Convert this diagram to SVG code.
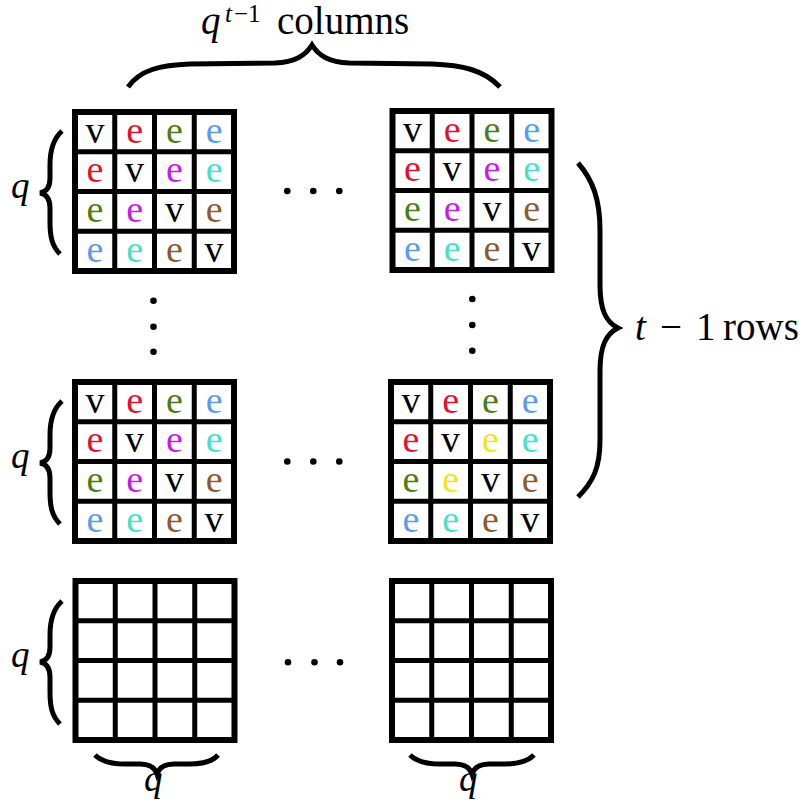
<svg xmlns="http://www.w3.org/2000/svg" xmlns:xlink="http://www.w3.org/1999/xlink" width="806" height="807" viewBox="0 0 806 807">
<style>
.frame{fill:#fff;stroke:#000;stroke-width:6}
.inner{stroke:#000;stroke-width:5}
.brace{fill:none;stroke:#000;stroke-width:5}
.dot{fill:#000}
.lbl{font-family:"Liberation Serif","Times New Roman",serif;font-size:39px;fill:#000}
.q{font-family:"Liberation Serif","Times New Roman",serif;font-size:37px;font-style:italic;fill:#000}
.it{font-style:italic}
.c{font-family:"Liberation Serif","Times New Roman",serif;font-size:38px;text-anchor:middle}
.k{fill:#000}.r{fill:#e0122f}.g{fill:#4b7d16}.b{fill:#5b9bea}.p{fill:#c41de6}.t{fill:#44e0c8}.w{fill:#8c5a30}.y{fill:#f2e41c}
</style>
<defs>
<g id="grid">
<rect class="frame" x="0" y="0" width="159" height="159"/>
<path class="inner" d="M39.75,0V159M79.5,0V159M119.25,0V159M0,39.75H159M0,79.5H159M0,119.25H159"/>
</g>
</defs>

<g id="grid-top-left" transform="translate(75,112)">
<use xlink:href="#grid"/>
<text class="c k" x="19.9" y="30.5">v</text><text class="c r" x="59.6" y="30.5">e</text><text class="c g" x="99.4" y="30.5">e</text><text class="c b" x="139.1" y="30.5">e</text>
<text class="c r" x="19.9" y="70.2">e</text><text class="c k" x="59.6" y="70.2">v</text><text class="c p" x="99.4" y="70.2">e</text><text class="c t" x="139.1" y="70.2">e</text>
<text class="c g" x="19.9" y="110">e</text><text class="c p" x="59.6" y="110">e</text><text class="c k" x="99.4" y="110">v</text><text class="c w" x="139.1" y="110">e</text>
<text class="c b" x="19.9" y="149.7">e</text><text class="c t" x="59.6" y="149.7">e</text><text class="c w" x="99.4" y="149.7">e</text><text class="c k" x="139.1" y="149.7">v</text>
</g>

<g id="grid-top-right" transform="translate(392.5,111)">
<use xlink:href="#grid"/>
<text class="c k" x="19.9" y="30.5">v</text><text class="c r" x="59.6" y="30.5">e</text><text class="c g" x="99.4" y="30.5">e</text><text class="c b" x="139.1" y="30.5">e</text>
<text class="c r" x="19.9" y="70.2">e</text><text class="c k" x="59.6" y="70.2">v</text><text class="c p" x="99.4" y="70.2">e</text><text class="c t" x="139.1" y="70.2">e</text>
<text class="c g" x="19.9" y="110">e</text><text class="c p" x="59.6" y="110">e</text><text class="c k" x="99.4" y="110">v</text><text class="c w" x="139.1" y="110">e</text>
<text class="c b" x="19.9" y="149.7">e</text><text class="c t" x="59.6" y="149.7">e</text><text class="c w" x="99.4" y="149.7">e</text><text class="c k" x="139.1" y="149.7">v</text>
</g>

<g id="grid-mid-left" transform="translate(75,382)">
<use xlink:href="#grid"/>
<text class="c k" x="19.9" y="30.5">v</text><text class="c r" x="59.6" y="30.5">e</text><text class="c g" x="99.4" y="30.5">e</text><text class="c b" x="139.1" y="30.5">e</text>
<text class="c r" x="19.9" y="70.2">e</text><text class="c k" x="59.6" y="70.2">v</text><text class="c p" x="99.4" y="70.2">e</text><text class="c t" x="139.1" y="70.2">e</text>
<text class="c g" x="19.9" y="110">e</text><text class="c p" x="59.6" y="110">e</text><text class="c k" x="99.4" y="110">v</text><text class="c w" x="139.1" y="110">e</text>
<text class="c b" x="19.9" y="149.7">e</text><text class="c t" x="59.6" y="149.7">e</text><text class="c w" x="99.4" y="149.7">e</text><text class="c k" x="139.1" y="149.7">v</text>
</g>

<g id="grid-mid-right" transform="translate(391,382)">
<use xlink:href="#grid"/>
<text class="c k" x="19.9" y="30.5">v</text><text class="c r" x="59.6" y="30.5">e</text><text class="c g" x="99.4" y="30.5">e</text><text class="c b" x="139.1" y="30.5">e</text>
<text class="c r" x="19.9" y="70.2">e</text><text class="c k" x="59.6" y="70.2">v</text><text class="c y" x="99.4" y="70.2">e</text><text class="c t" x="139.1" y="70.2">e</text>
<text class="c g" x="19.9" y="110">e</text><text class="c y" x="59.6" y="110">e</text><text class="c k" x="99.4" y="110">v</text><text class="c w" x="139.1" y="110">e</text>
<text class="c b" x="19.9" y="149.7">e</text><text class="c t" x="59.6" y="149.7">e</text><text class="c w" x="99.4" y="149.7">e</text><text class="c k" x="139.1" y="149.7">v</text>
</g>

<g id="grid-bottom-left" transform="translate(75.5,581)">
<use xlink:href="#grid"/>
</g>

<g id="grid-bottom-right" transform="translate(392,581)">
<use xlink:href="#grid"/>
</g>

<g id="dots">
<circle class="dot" cx="287.3" cy="191" r="3.3"/><circle class="dot" cx="313.3" cy="191" r="3.3"/><circle class="dot" cx="339.3" cy="191" r="3.3"/>
<circle class="dot" cx="287.3" cy="461.5" r="3.3"/><circle class="dot" cx="313.3" cy="461.5" r="3.3"/><circle class="dot" cx="339.3" cy="461.5" r="3.3"/>
<circle class="dot" cx="288" cy="662.3" r="3.3"/><circle class="dot" cx="314.5" cy="662.3" r="3.3"/><circle class="dot" cx="340" cy="662.3" r="3.3"/>
<circle class="dot" cx="153.5" cy="300.7" r="3.3"/><circle class="dot" cx="153.5" cy="326.7" r="3.3"/><circle class="dot" cx="153.5" cy="351.7" r="3.3"/>
<circle class="dot" cx="472.3" cy="299" r="3.3"/><circle class="dot" cx="472.3" cy="325" r="3.3"/><circle class="dot" cx="472.3" cy="350.7" r="3.3"/>
</g>

<g id="braces">
<path class="brace" d="M128,87 C140,70 160,65 190,64 L275,63 C295,62 305,56 312,45 C319,56 329,62 349,63 L432,64 C462,65 484,70 500,87"/>
<path class="brace" d="M578,163 C593,180 600,200 600,230 L600,285 C600,310 606,322 618,328 C606,334 600,346 600,371 L600,440 C600,468 593,482 578,497"/>
<path class="brace" d="M62,131 C53,139 50,150 50,165 L50,178 C50,187 46,192 40,193 C46,194 50,199 50,208 L50,222 C50,237 52,246 60,254"/>
<path class="brace" d="M62,401 C53,409 50,420 50,435 L50,448 C50,457 46,462 40,463 C46,464 50,469 50,478 L50,492 C50,507 52,516 60,524"/>
<path class="brace" d="M62,601 C53,609 50,620 50,635 L50,647 C50,656 46,661 40,662 C46,663 50,668 50,677 L50,692 C50,707 52,716 60,724"/>
<path class="brace" d="M95,755 C102,762 112,764 125,764 L140,764 C150,764 155,768 157,774 C159,768 164,764 174,764 L190,764 C203,764 212,762 218,755"/>
<path class="brace" d="M410,755 C417,762 427,764 440,764 L455,764 C465,764 470,768 472,774 C474,768 479,764 489,764 L505,764 C518,764 527,762 534,755"/>
</g>

<g id="labels">
<text class="lbl" y="34" font-size="38"><tspan class="it" x="201">q</tspan><tspan font-size="25" x="225" y="22" class="it">t</tspan><tspan font-size="25" x="234" y="22">−1</tspan><tspan x="277" y="34">columns</tspan></text>
<text class="lbl" y="340"><tspan class="it" x="635">t</tspan><tspan x="660">−</tspan><tspan x="696">1</tspan><tspan x="723">rows</tspan></text>
<text class="q" x="11" y="198">q</text>
<text class="q" x="11" y="468">q</text>
<text class="q" x="11" y="667">q</text>
<text class="q" x="144" y="791">q</text>
<text class="q" x="459" y="791">q</text>
</g>
</svg>
